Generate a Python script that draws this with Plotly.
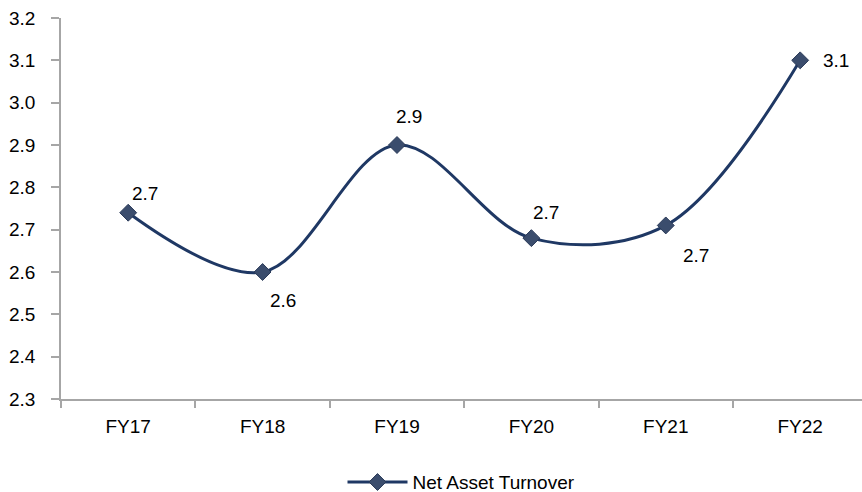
import plotly.graph_objects as go

# Net asset turnover by fiscal year
years = ["FY17", "FY18", "FY19", "FY20", "FY21", "FY22"]
turnover = [2.74, 2.60, 2.90, 2.68, 2.71, 3.10]

# Pixel offsets for each value label relative to its marker
label_dx = [17, 20, 12, 15, 30, 36]
label_dy = [19, -28, 29, 26, -30, 0]

FONT = "Liberation Sans, Arial, sans-serif"
LINE_COLOR = "#1f3864"
MARKER_COLOR = "#3b4d6d"
AXIS_COLOR = "#a6a6a6"
FS = 19

fig = go.Figure()
fig.add_trace(go.Scatter(
    x=years,
    y=turnover,
    mode="lines+markers",
    name="Net Asset Turnover",
    line=dict(color=LINE_COLOR, width=3, shape="spline", smoothing=1.0),
    marker=dict(symbol="diamond", size=13, color=MARKER_COLOR,
                line=dict(color="#2a3a58", width=1)),
))

for yr, v, dx, dy in zip(years, turnover, label_dx, label_dy):
    fig.add_annotation(
        x=yr, y=v, text=f"{v:.1f}", showarrow=False,
        xshift=dx, yshift=dy,
        font=dict(family=FONT, size=FS, color="#000000"),
    )

fig.update_layout(
    width=862, height=492,
    margin=dict(l=61, r=0, t=18, b=93, autoexpand=False),
    paper_bgcolor="white", plot_bgcolor="white",
    font=dict(family=FONT, size=FS, color="#000000"),
    showlegend=True,
    legend=dict(orientation="h", x=0.5, xanchor="center",
                yref="container", y=0.02, yanchor="middle",
                font=dict(family=FONT, size=FS), itemwidth=60),
    xaxis=dict(
        type="category", range=[-0.5, 5.46],
        showline=True, linecolor=AXIS_COLOR, linewidth=1.5,
        ticks="outside", tickson="boundaries", ticklen=7,
        tickcolor=AXIS_COLOR, tickwidth=1.5,
        showgrid=False, zeroline=False,
        tickfont=dict(family=FONT, size=FS),
        ticklabelstandoff=9,
        automargin=False,
    ),
    yaxis=dict(
        range=[2.3, 3.2], dtick=0.1, tickformat=".1f",
        showline=True, linecolor=AXIS_COLOR, linewidth=1.5,
        ticks="outside", ticklen=8, tickcolor=AXIS_COLOR, tickwidth=1.5,
        showgrid=False, zeroline=False,
        tickfont=dict(family=FONT, size=FS),
        ticklabelstandoff=12,
        automargin=False,
    ),
)

fig.write_html("out.html")
